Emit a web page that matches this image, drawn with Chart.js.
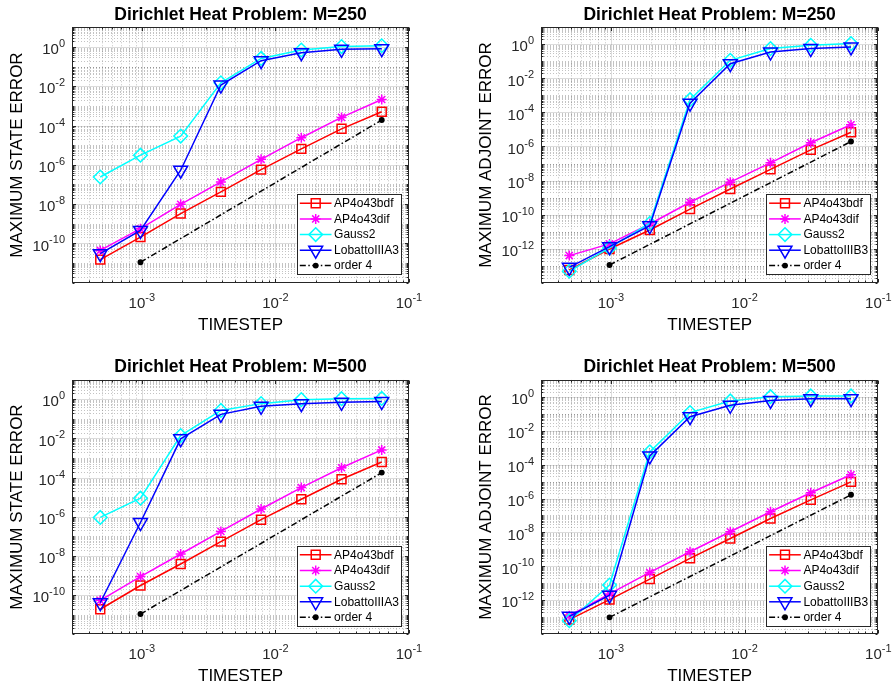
<!DOCTYPE html>
<html><head><meta charset="utf-8">
<script src="https://cdn.jsdelivr.net/npm/chart.js@4/dist/chart.umd.min.js"></script>
<style>
html,body{margin:0;padding:0;background:#fff;}
body{width:895px;height:689px;position:relative;overflow:hidden;}
canvas{position:absolute;}
</style></head><body>
<canvas id="c1" width="447" height="345" style="left:0px;top:0px"></canvas>
<canvas id="c2" width="448" height="345" style="left:447px;top:0px"></canvas>
<canvas id="c3" width="447" height="344" style="left:0px;top:345px"></canvas>
<canvas id="c4" width="448" height="344" style="left:447px;top:345px"></canvas>
<script>
// ---------- data ----------
const timesteps = [4.8828125e-4, 9.765625e-4, 1.953125e-3, 3.90625e-3, 7.8125e-3, 1.5625e-2, 3.125e-2, 6.25e-2];
const order4Steps = [9.765625e-4, 6.25e-2];

const xTickExps = [-3, -2, -1];
const yTickExpsState = [0, -2, -4, -6, -8, -10];
const yTickExpsAdjoint = [0, -2, -4, -6, -8, -10, -12];

const namesA3 = ['AP4o43bdf', 'AP4o43dif', 'Gauss2', 'LobattoIIIA3', 'order 4'];
const namesB3 = ['AP4o43bdf', 'AP4o43dif', 'Gauss2', 'LobattoIIIB3', 'order 4'];

const titles = ['Dirichlet Heat Problem: M=250', 'Dirichlet Heat Problem: M=250',
                'Dirichlet Heat Problem: M=500', 'Dirichlet Heat Problem: M=500'];
const yLabels = ['MAXIMUM STATE ERROR', 'MAXIMUM ADJOINT ERROR', 'MAXIMUM STATE ERROR', 'MAXIMUM ADJOINT ERROR'];
const xLabel = 'TIMESTEP';

// state error, M=250
const s250_bdf   = [1.5e-11, 2.1e-10, 3.3e-9, 4.2e-8, 5.7e-7, 6.5e-6, 6.8e-5, 5.0e-4];
const s250_dif   = [4.4e-11, 5.6e-10, 9.8e-9, 1.35e-7, 1.9e-6, 2.4e-5, 2.6e-4, 2.1e-3];
const s250_gauss = [2.4e-7, 3.1e-6, 2.9e-5, 1.5e-2, 0.26, 0.7, 1.05, 1.15];
const s250_lob   = [3.0e-11, 4.6e-10, 5.3e-7, 1.15e-2, 0.2, 0.51, 0.76, 0.82];
const s250_ord4  = [1.1e-11, 1.9e-4];

// adjoint error, M=250
const a250_bdf   = [5.6e-14, 9.5e-13, 1.25e-11, 2.1e-10, 3.2e-9, 4.5e-8, 6.3e-7, 6.9e-6];
const a250_dif   = [3.9e-13, 1.9e-12, 2.8e-11, 5.3e-10, 8.0e-9, 1.1e-7, 1.65e-6, 1.9e-5];
const a250_gauss = [4.7e-14, 1.1e-12, 3.1e-11, 5.6e-4, 0.115, 0.56, 0.87, 1.1];
const a250_lob   = [8.0e-14, 1.3e-12, 2.2e-11, 3.5e-4, 0.073, 0.35, 0.56, 0.7];
const a250_ord4  = [1.1e-13, 1.95e-6];

// state error, M=500
const s500_bdf   = [1.9e-11, 3.1e-10, 3.9e-9, 5.4e-8, 7.1e-7, 7.9e-6, 8.3e-5, 6.3e-4];
const s500_dif   = [5.4e-11, 8.9e-10, 1.26e-8, 1.8e-7, 2.5e-6, 3.1e-5, 3.2e-4, 2.6e-3];
const s500_gauss = [9.3e-7, 8.9e-6, 1.4e-2, 0.27, 0.6, 0.96, 1.07, 1.1];
const s500_lob   = [4.1e-11, 5.1e-7, 9.6e-3, 0.17, 0.44, 0.6, 0.7, 0.76];
const s500_ord4  = [1.08e-11, 1.8e-4];

// adjoint error, M=500
const a500_bdf   = [7.3e-14, 1.1e-12, 1.8e-11, 3.0e-10, 4.4e-9, 6.6e-8, 8.3e-7, 9.5e-6];
const a500_dif   = [1.25e-13, 2.4e-12, 4.4e-11, 7.3e-10, 1.1e-8, 1.65e-7, 2.2e-6, 2.5e-5];
const a500_gauss = [6.3e-14, 8.0e-12, 5.6e-4, 0.115, 0.56, 1.0, 1.1, 1.1];
const a500_lob   = [1.15e-13, 2.0e-12, 3.2e-4, 0.066, 0.31, 0.6, 0.76, 0.76];
const a500_ord4  = [1.0e-13, 1.65e-6];

// ---------- styling ----------
const FONT = "'Liberation Sans', Arial, Helvetica, sans-serif";
const AX = 'rgb(38,38,38)';
const seriesStyles = [
  { color: '#ff0000', pointStyle: 'rect',    radius: 6.3, rotation: 0,   fill: 'rgba(0,0,0,0)', dash: [] },
  { color: '#ff00ff', pointStyle: 'star',    radius: 5.0, rotation: 0,   fill: 'rgba(0,0,0,0)', dash: [] },
  { color: '#00ffff', pointStyle: 'rectRot', radius: 6.8, rotation: 0,   fill: 'rgba(0,0,0,0)', dash: [] },
  { color: '#0000ff', pointStyle: 'triangle',radius: 8.0, rotation: 180, fill: 'rgba(0,0,0,0)', dash: [] },
  { color: '#000000', pointStyle: 'circle',  radius: 2.2, rotation: 0,   fill: '#000000',       dash: [6, 2.5, 1.5, 2.5] }
];

function toXY(xs, ys) { return ys.map((v, i) => ({ x: xs[i], y: v })); }

function drawMarker(ctx, st, x, y) {
  if (Chart.helpers && Chart.helpers.drawPoint) {
    ctx.save();
    ctx.strokeStyle = st.color; ctx.fillStyle = st.fill; ctx.lineWidth = 1.5; ctx.setLineDash([]);
    Chart.helpers.drawPoint(ctx, { pointStyle: st.pointStyle, rotation: st.rotation, radius: st.radius, borderWidth: 1.5 }, x, y);
    ctx.restore();
    return;
  }
  const r = st.radius;
  ctx.save();
  ctx.strokeStyle = st.color; ctx.fillStyle = st.fill; ctx.lineWidth = 1.5; ctx.setLineDash([]);
  ctx.beginPath();
  if (st.pointStyle === 'rect') { const h = r * Math.SQRT1_2; ctx.rect(x - h, y - h, 2 * h, 2 * h); }
  else if (st.pointStyle === 'rectRot') { ctx.moveTo(x - r, y); ctx.lineTo(x, y - r); ctx.lineTo(x + r, y); ctx.lineTo(x, y + r); ctx.closePath(); }
  else if (st.pointStyle === 'triangle') { let a = Math.PI; for (let i = 0; i < 3; i++) { const px = x + Math.sin(a) * r, py = y - Math.cos(a) * r; i ? ctx.lineTo(px, py) : ctx.moveTo(px, py); a += 2 * Math.PI / 3; } ctx.closePath(); }
  else if (st.pointStyle === 'star') { for (let i = 0; i < 4; i++) { const a = i * Math.PI / 4; ctx.moveTo(x - Math.cos(a) * r, y - Math.sin(a) * r); ctx.lineTo(x + Math.cos(a) * r, y + Math.sin(a) * r); } }
  else { ctx.arc(x, y, r, 0, 2 * Math.PI); }
  ctx.fill(); ctx.stroke();
  ctx.restore();
}

function crisp(v) { return Math.round(v) + 0.5; }

const figurePlugin = {
  id: 'figure',
  beforeDatasetsDraw(chart) {
    const { ctx, chartArea: a, scales: { x, y } } = chart;
    const cfg = chart.options.plugins.figure;
    ctx.save();
    ctx.beginPath(); ctx.rect(a.left, a.top, a.right - a.left, a.bottom - a.top); ctx.clip();
    ctx.lineWidth = 1;
    // vertical grid
    for (let e = -4; e <= -1; e++) for (let k = 1; k <= 9; k++) {
      const v = k * Math.pow(10, e);
      if (v <= x.min * 1.0001 || v >= x.max * 0.9999) continue;
      const px = crisp(x.getPixelForValue(v));
      const major = (k === 1);
      ctx.strokeStyle = major ? 'rgba(38,38,38,0.16)' : 'rgba(38,38,38,0.28)';
      ctx.setLineDash(major ? [] : [1, 2]);
      ctx.beginPath(); ctx.moveTo(px, a.top); ctx.lineTo(px, a.bottom); ctx.stroke();
    }
    // horizontal grid
    for (let e = cfg.yMinExp; e <= 1; e++) for (let k = 1; k <= 9; k++) {
      const v = k * Math.pow(10, e);
      if (v <= y.min * 1.0001 || v >= y.max * 0.9999) continue;
      const py = crisp(y.getPixelForValue(v));
      const major = (k === 1 && cfg.yTickExps.includes(e));
      ctx.strokeStyle = major ? 'rgba(38,38,38,0.16)' : 'rgba(38,38,38,0.28)';
      ctx.setLineDash(major ? [] : [1, 2]);
      ctx.beginPath(); ctx.moveTo(a.left, py); ctx.lineTo(a.right, py); ctx.stroke();
    }
    ctx.restore();
  },
  afterDatasetsDraw(chart) {
    const { ctx, chartArea: a, scales: { x, y } } = chart;
    const cfg = chart.options.plugins.figure;
    ctx.save();
    ctx.setLineDash([]);
    ctx.strokeStyle = AX; ctx.lineWidth = 1;
    // ticks (inward, all sides)
    const L = Math.round(a.left) + 0.5, R = Math.round(a.right) - 0.5, T = Math.round(a.top) + 0.5, B = Math.round(a.bottom) - 0.5;
    ctx.beginPath();
    for (let e = -4; e <= -1; e++) for (let k = 1; k <= 9; k++) {
      const v = k * Math.pow(10, e);
      if (v < x.min || v > x.max) continue;
      const px = crisp(x.getPixelForValue(v));
      const len = k === 1 ? 3.5 : 2;
      ctx.moveTo(px, B); ctx.lineTo(px, B - len);
      ctx.moveTo(px, T); ctx.lineTo(px, T + len);
    }
    for (let e = cfg.yMinExp; e <= 1; e++) for (let k = 1; k <= 9; k++) {
      const v = k * Math.pow(10, e);
      if (v < y.min || v > y.max) continue;
      const py = crisp(y.getPixelForValue(v));
      const len = (k === 1 && cfg.yTickExps.includes(e)) ? 3.5 : 2;
      ctx.moveTo(L, py); ctx.lineTo(L + len, py);
      ctx.moveTo(R, py); ctx.lineTo(R - len, py);
    }
    ctx.stroke();
    // box
    ctx.strokeRect(L, T, R - L, B - T);

    // tick labels
    ctx.fillStyle = AX; ctx.textBaseline = 'middle';
    const baseFont = '15px ' + FONT, expFont = '11px ' + FONT;
    xTickExps.forEach(e => {
      const px = x.getPixelForValue(Math.pow(10, e));
      const es = String(e);
      ctx.font = baseFont; const wb = ctx.measureText('10').width;
      ctx.font = expFont; const we = ctx.measureText(es).width;
      const sx = px - (wb + we) / 2;
      ctx.textAlign = 'left';
      ctx.font = baseFont; ctx.fillText('10', sx, a.bottom + 21);
      ctx.font = expFont; ctx.fillText(es, sx + wb, a.bottom + 14.8);
    });
    cfg.yTickExps.forEach(e => {
      const py = y.getPixelForValue(Math.pow(10, e));
      const es = String(e);
      ctx.font = baseFont; const wb = ctx.measureText('10').width;
      ctx.font = expFont; const we = ctx.measureText(es).width;
      const sx = a.left - 7 - wb - we;
      ctx.textAlign = 'left';
      ctx.font = baseFont; ctx.fillText('10', sx, py + 3);
      ctx.font = expFont; ctx.fillText(es, sx + wb, py - 3);
    });

    // axis titles
    ctx.fillStyle = '#000';
    ctx.font = '17px ' + FONT; ctx.textAlign = 'center';
    ctx.fillText(xLabel, (a.left + a.right) / 2, a.bottom + 42.5);
    ctx.save();
    ctx.translate(a.left - 54.5, (a.top + a.bottom) / 2);
    ctx.rotate(-Math.PI / 2);
    ctx.fillText(cfg.yLabel, 0, 0);
    ctx.restore();

    // legend (inside, south-east)
    const bw = 104, bh = 80;
    const bx = a.right - 8.5 - bw, by = a.bottom - 8.5 - bh;
    ctx.fillStyle = '#fff';
    ctx.fillRect(bx, by, bw, bh);
    ctx.strokeStyle = AX; ctx.lineWidth = 1;
    ctx.strokeRect(Math.round(bx) + 0.5, Math.round(by) + 0.5, bw, bh);
    const rowY = [9, 24.7, 40.4, 56, 71.4];
    chart.data.datasets.forEach((ds, i) => {
      const st = seriesStyles[i];
      const ry = by + rowY[i];
      ctx.save();
      ctx.strokeStyle = st.color; ctx.lineWidth = 1.5; ctx.setLineDash(st.dash);
      ctx.beginPath(); ctx.moveTo(bx + 3.3, ry); ctx.lineTo(bx + 35, ry); ctx.stroke();
      ctx.restore();
      drawMarker(ctx, st, bx + 19.2, ry);
      ctx.fillStyle = '#000'; ctx.font = '12px ' + FONT; ctx.textAlign = 'left'; ctx.textBaseline = 'middle';
      ctx.fillText(ds.label, bx + 37.6, ry + 0.5);
    });
    ctx.restore();
  }
};

function makePanel(id, title, yLabel, names, series, ord4, yMin, yMinExp, yTickExps, pad) {
  const datasets = series.map((vals, i) => {
    const st = seriesStyles[i];
    const xs = (i === 4) ? order4Steps : timesteps;
    return {
      label: names[i],
      data: toXY(xs, vals),
      borderColor: st.color,
      backgroundColor: st.fill,
      borderWidth: 1.5,
      borderDash: st.dash,
      pointStyle: st.pointStyle,
      pointRadius: st.radius,
      pointRotation: st.rotation,
      pointBorderColor: st.color,
      pointBackgroundColor: st.fill,
      pointBorderWidth: 1.5,
      tension: 0,
      fill: false,
      clip: false,
      order: 5 - i
    };
  });
  return new Chart(document.getElementById(id), {
    type: 'line',
    data: { datasets },
    options: {
      responsive: false,
      animation: false,
      devicePixelRatio: 1,
      layout: { padding: pad },
      events: [],
      scales: {
        x: { type: 'logarithmic', min: 3e-4, max: 0.1, display: false },
        y: { type: 'logarithmic', min: yMin, max: 10, display: false }
      },
      plugins: {
        legend: { display: false },
        tooltip: { enabled: false },
        title: {
          display: true, text: title, color: '#000',
          font: { family: FONT, size: 17.5, weight: 'bold', lineHeight: 1.2 },
          padding: { top: 0, bottom: 1.8 }
        },
        figure: { yLabel, yMinExp, yTickExps }
      }
    },
    plugins: [figurePlugin]
  });
}

const titleH = 17.5 * 1.2 + 1.8;
makePanel('c1', titles[0], yLabels[0], namesA3, [s250_bdf, s250_dif, s250_gauss, s250_lob, s250_ord4], null,
  1e-12, -12, yTickExpsState, { left: 72, right: 38, top: 27.3 - titleH, bottom: 62.3 });
makePanel('c2', titles[1], yLabels[1], namesB3, [a250_bdf, a250_dif, a250_gauss, a250_lob, a250_ord4], null,
  1e-14, -14, yTickExpsAdjoint, { left: 94, right: 16.7, top: 27.3 - titleH, bottom: 62.3 });
makePanel('c3', titles[2], yLabels[2], namesA3, [s500_bdf, s500_dif, s500_gauss, s500_lob, s500_ord4], null,
  1e-12, -12, yTickExpsState, { left: 72, right: 38, top: 34.7 - titleH, bottom: 54.7 });
makePanel('c4', titles[3], yLabels[3], namesB3, [a500_bdf, a500_dif, a500_gauss, a500_lob, a500_ord4], null,
  1e-14, -14, yTickExpsAdjoint, { left: 94, right: 16.7, top: 34.7 - titleH, bottom: 54.7 });
</script>
</body></html>
